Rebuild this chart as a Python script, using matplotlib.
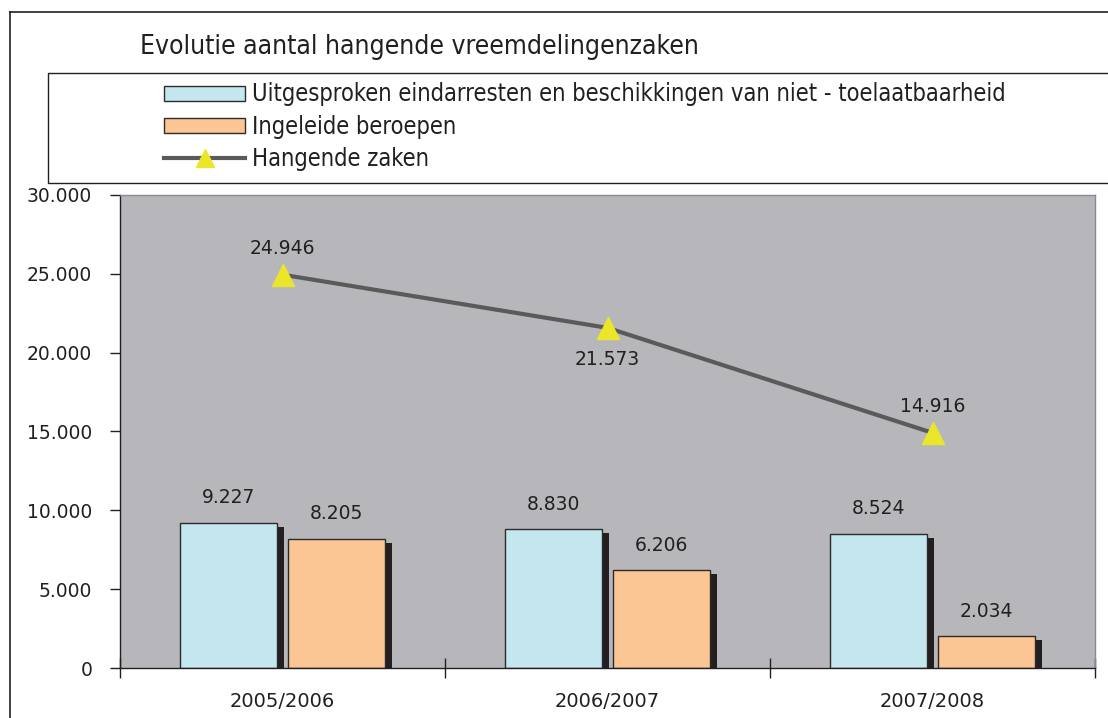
import matplotlib
matplotlib.use("Agg")
import matplotlib.pyplot as plt
import matplotlib.patheffects as pe
from matplotlib.patches import Rectangle
from matplotlib.lines import Line2D
import numpy as np

periods = ["2005/2006", "2006/2007", "2007/2008"]
uitgesproken = [9227, 8830, 8524]
beroepen = [8205, 6206, 2034]
hangend = [24946, 21573, 14916]

label_uit = "Uitgesproken eindarresten en beschikkingen van niet - toelaatbaarheid"
label_ber = "Ingeleide beroepen"
label_hang = "Hangende zaken"
title = "Evolutie aantal hangende vreemdelingenzaken"


def dotted(v):
    return f"{v:,}".replace(",", ".")


fig = plt.figure(figsize=(11.08, 7.18), dpi=100)
W, H = 1108, 718

ax = fig.add_axes([120 / W, 50 / H, 975 / W, 473 / H])
ax.set_facecolor("#b7b7bb")

x = np.arange(len(periods))
bw = 0.30
shadow = [pe.SimplePatchShadow(offset=(5, -3), shadow_rgbFace="#231f20", alpha=1.0), pe.Normal()]

b1 = ax.bar(x - 0.166, uitgesproken, bw, color="#c3e6ef", edgecolor="#2b2b2b", linewidth=1,
            label=label_uit)
b2 = ax.bar(x + 0.166, beroepen, bw, color="#fbc594", edgecolor="#2b2b2b", linewidth=1,
            label=label_ber)
for bars in (b1, b2):
    for p in bars:
        p.set_path_effects(shadow)
    ax.bar_label(bars, labels=[dotted(v) for v in bars.datavalues], padding=11,
                 fontsize=13.5, color="#231f20")

line, = ax.plot(x, hangend, color="#5a5a5a", lw=3, marker="^", markersize=16,
                markerfacecolor="#ebe62a", markeredgecolor="#ebe62a", label=label_hang)
offsets = [19, -23, 19]
for xi, v, dy in zip(x, hangend, offsets):
    ax.annotate(dotted(v), (xi, v), xytext=(0, dy), textcoords="offset points",
                ha="center", va="center", fontsize=13.5, color="#231f20")

ax.set_xlim(-0.5, 2.5)
ax.set_ylim(0, 30000)
ax.set_yticks(range(0, 30001, 5000))
ax.set_yticklabels([dotted(v) for v in range(0, 30001, 5000)], fontsize=13.5, color="#231f20")
ax.tick_params(axis="y", length=7, width=1, color="#231f20", pad=13)

ax.set_xticks([-0.5, 0.5, 1.5, 2.5])
ax.set_xticklabels([])
ax.set_xticks(x, minor=True)
ax.set_xticklabels(periods, minor=True, fontsize=14, color="#231f20")
ax.tick_params(axis="x", which="major", direction="inout", length=14, width=1, color="#231f20")
ax.tick_params(axis="x", which="minor", length=0, pad=17)

for side in ("left", "bottom"):
    ax.spines[side].set_color("#231f20")
    ax.spines[side].set_linewidth(1)
for side in ("top", "right"):
    ax.spines[side].set_color("#8a8a8e")
    ax.spines[side].set_linewidth(1)

# outer frame and legend box
fig.add_artist(Line2D([10 / W, 10 / W], [0, 1 - 12 / H], color="#231f20", lw=1.2))
fig.add_artist(Line2D([10 / W, 1], [1 - 12 / H, 1 - 12 / H], color="#231f20", lw=1.2))
fig.add_artist(Rectangle((48 / W, 1 - 183 / H), 1.0, 110 / H, transform=fig.transFigure,
                         facecolor="white", edgecolor="#231f20", lw=1))

fig.text(140 / W, 1 - 47 / H, title, fontsize=19, family="DejaVu Sans", stretch="condensed",
         va="center", ha="left", color="#231f20")

leg = fig.legend(handles=[b1, b2, line], labels=[label_uit, label_ber, label_hang],
                 loc="upper left", bbox_to_anchor=(155 / W, 1 - 73 / H), frameon=False,
                 prop={"family": "DejaVu Sans", "stretch": "condensed", "size": 17},
                 handlelength=3.4, handleheight=0.6,
                 handletextpad=0.3, labelspacing=0.35, borderaxespad=0)
for t in leg.get_texts():
    t.set_color("#231f20")
for h in leg.legend_handles[:2]:
    h.set_path_effects([pe.Normal()])
leg.legend_handles[2].set_markersize(13)

fig.savefig("out.png", dpi=100)
